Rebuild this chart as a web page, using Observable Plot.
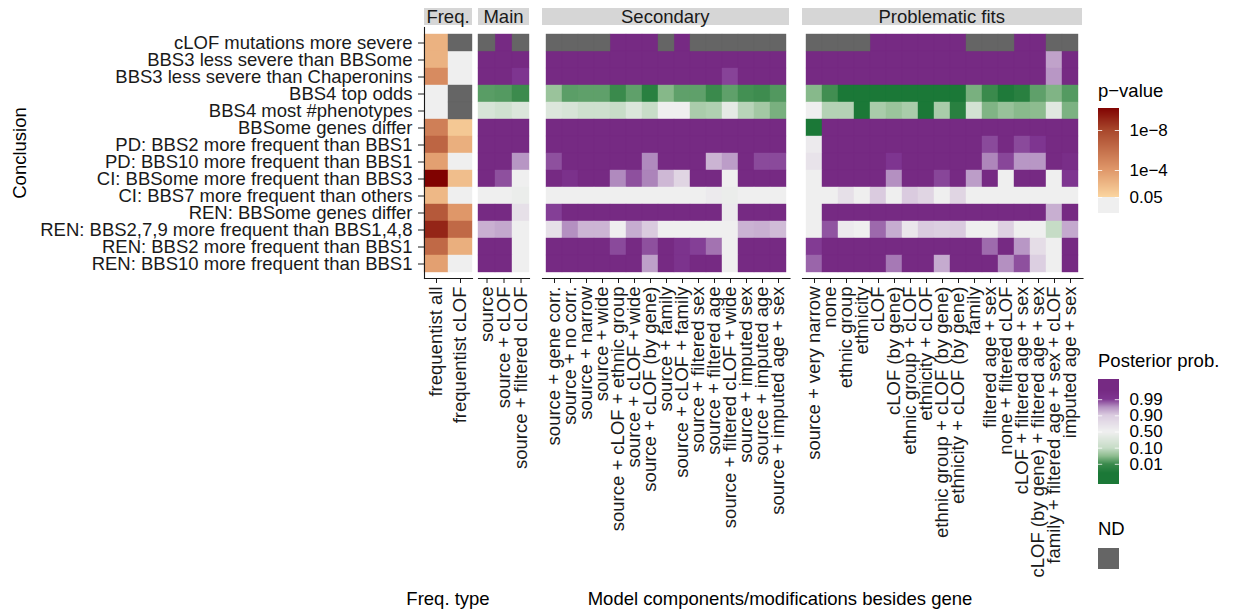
<!DOCTYPE html>
<html><head><meta charset="utf-8">
<script src="https://cdn.jsdelivr.net/npm/d3@7"></script>
<script src="https://cdn.jsdelivr.net/npm/@observablehq/plot@0.6"></script>
<style>
body{margin:0;background:#fff;font-family:"Liberation Sans",Arial,sans-serif;}
#chart{position:relative;width:1234px;height:612px;overflow:hidden;background:#fff;}
#chart > *{position:absolute;}
.strip{background:#D6D6D6;height:17px;top:8px;font-size:18.5px;line-height:18px;text-align:center;color:#1a1a1a;white-space:nowrap;}
.lbl{font-size:18.5px;color:#000;white-space:nowrap;line-height:1;}
</style></head><body><div id="chart"></div>
<script>
// ---------- data ----------
const conclusions = [
  "cLOF mutations more severe",
  "BBS3 less severe than BBSome",
  "BBS3 less severe than Chaperonins",
  "BBS4 top odds",
  "BBS4 most #phenotypes",
  "BBSome genes differ",
  "PD: BBS2 more frequent than BBS1",
  "PD: BBS10 more frequent than BBS1",
  "CI: BBSome more frequent than BBS3",
  "CI: BBS7 more frequent than others",
  "REN: BBSome genes differ",
  "REN: BBS2,7,9 more frequent than BBS1,4,8",
  "REN: BBS2 more frequent than BBS1",
  "REN: BBS10 more frequent than BBS1"
];
const freqTypes = ["frequentist all", "frequentist cLOF"];
// p-values (null = ND)
const freqAllP  = [1.4e-3, 1.4e-3, 2.3e-5, 0.5, 0.5, 6e-6, 3e-7, 2.2e-4, 6e-11, 2.6e-3, 8e-8, 8e-10, 5e-7, 2.2e-4];
const freqClofP = [null, 0.5, 0.5, null, null, 0.013, 1e-3, 0.5, 5e-3, 0.5, 9e-5, 5e-7, 1e-3, 0.5];

const mainCols = ["source", "source + cLOF", "source + filtered cLOF"];
const secondaryCols = [
  "source + gene corr.", "source + no corr.", "source + narrow", "source + wide",
  "source + cLOF + ethnic group", "source + cLOF + wide", "source + cLOF (by gene)",
  "source + family", "source + cLOF + family", "source + filtered sex", "source + filtered age",
  "source + filtered cLOF + wide", "source + imputed sex", "source + imputed age", "source + imputed age + sex"
];
const problematicCols = [
  "source + very narrow", "none", "ethnic group", "ethnicity", "cLOF", "cLOF (by gene)",
  "ethnic group + cLOF", "ethnicity + cLOF", "ethnic group + cLOF (by gene)", "ethnicity + cLOF (by gene)",
  "family", "filtered age + sex", "none + filtered cLOF", "cLOF + filtered age + sex",
  "cLOF (by gene) + filtered age + sex", "family + filtered age + sex + cLOF", "imputed age + sex"
];
// posterior probabilities (null = ND); one row per conclusion
const X = 0.999, G = 0.5, D = 0.002;
const mainPost = [
  [null, X, null],
  [X, X, X],
  [X, X, 0.99],
  [0.027, 0.024, 0.011],
  [0.27, 0.2, 0.3],
  [X, X, X],
  [X, X, X],
  [X, X, 0.942],
  [X, 0.977, G],
  [G, G, 0.46],
  [X, X, 0.67],
  [0.921, 0.928, G],
  [X, X, G],
  [X, X, G]
];
const secondaryPost = [
  [null, null, null, null, X, X, X, null, X, null, null, null, null, null, null],
  [X, X, X, X, X, X, X, X, X, X, X, X, X, X, X],
  [X, X, X, X, X, X, X, X, X, X, X, 0.983, X, X, X],
  [0.065, 0.028, 0.03, 0.03, 0.01, 0.03, 0.0072, 0.051, 0.03, 0.03, 0.01, 0.03, 0.015, 0.012, 0.023],
  [0.31, 0.27, 0.18, 0.18, 0.12, 0.3, 0.12, 0.5, 0.5, 0.078, 0.083, 0.4, 0.089, 0.072, 0.044],
  [X, X, X, X, X, X, X, X, X, X, X, X, X, X, X],
  [X, X, X, X, X, X, X, X, X, X, X, X, X, X, X],
  [0.977, X, X, X, X, X, 0.949, X, X, X, 0.918, 0.936, X, 0.98, 0.98],
  [X, 0.992, X, X, 0.949, 0.977, 0.952, 0.915, 0.79, X, X, G, X, X, X],
  [G, G, G, G, G, G, G, G, G, G, 0.56, 0.46, G, G, G],
  [0.985, X, X, X, X, X, X, X, X, X, X, 0.56, X, X, X],
  [0.67, 0.946, 0.917, 0.917, G, 0.924, 0.9, G, G, G, G, G, 0.919, 0.922, 0.912],
  [X, X, X, X, 0.98, X, 0.977, X, 0.991, 0.985, 0.96, G, X, X, X],
  [X, X, X, X, X, X, 0.934, X, 0.991, X, X, G, X, X, X]
];
const problematicPost = [
  [null, null, null, null, X, X, X, X, X, X, null, null, null, X, X, null, null],
  [X, X, X, X, X, X, X, X, X, X, X, X, X, X, X, 0.932, X],
  [X, X, X, X, X, X, X, X, X, X, X, X, X, X, X, 0.941, X],
  [0.052, 0.0136, D, D, D, D, D, D, D, D, 0.044, 0.01, 0.0056, 0.0072, 0.03, 0.048, 0.024],
  [G, 0.086, 0.086, D, 0.077, 0.066, 0.077, D, 0.077, 0.0072, 0.23, 0.048, 0.064, 0.053, 0.055, 0.35, 0.046],
  [D, X, X, X, X, X, X, X, X, X, X, X, X, X, X, X, X],
  [0.56, X, X, X, X, X, X, X, X, X, X, 0.98, X, 0.98, 0.99, X, X],
  [0.63, X, X, X, X, 0.99, X, X, X, X, X, 0.951, 0.982, 0.941, 0.941, X, 0.993],
  [G, X, X, X, X, 0.946, X, X, 0.982, X, 0.936, X, G, X, X, G, 0.99],
  [G, G, 0.67, G, 0.9, G, 0.9, 0.79, G, 0.79, G, G, G, G, G, G, G],
  [G, X, X, X, X, X, X, X, X, X, X, X, X, X, X, 0.922, X],
  [G, 0.975, 0.56, G, 0.965, 0.924, 0.6, 0.9, 0.86, 0.9, G, G, 0.83, G, G, 0.1, 0.927],
  [0.987, X, X, X, X, X, X, X, X, X, X, 0.964, X, 0.941, 0.7, G, X],
  [0.967, X, X, X, X, 0.957, X, X, 0.925, X, X, X, 0.946, 0.977, 0.86, G, X]
];
const pTicks = [1e-8, 1e-4, 0.05];
const pTickLabels = ["1e\u22128", "1e\u22124", "0.05"];
const postTicks = [0.99, 0.90, 0.50, 0.10, 0.01];
const postTickLabels = ["0.99", "0.90", "0.50", "0.10", "0.01"];

// ---------- styles / scales ----------
const FONT = "'Liberation Sans', Arial, sans-serif";
const ND = "#656565";
const INK = "#1a1a1a";
const pColor = {type: "linear", domain: [-1, 1.29, 1.301, 4, 8, 10.3],
  range: ["#EFEFEF", "#EFEFEF", "#FAD5A0", "#E0986A", "#A8472C", "#7F0000"]};
const postColor = {type: "linear",
  domain: [0, 0.005, 0.01, 0.055, 0.1, 0.5, 0.9, 0.945, 0.99, 0.995, 1],
  range: ["#1B7837", "#1B7837", "#3A8A4C", "#8DBC8F", "#C6DCC6", "#EFEFEF", "#DACBDF", "#B592C2", "#7E3590", "#762A83", "#762A83"]};
const H = 430, TOP = 27, BOTTOM = 278;
const baseStyle = {fontFamily: FONT, fontSize: "18.5px", color: INK, background: "transparent", overflow: "visible"};
const chart = document.getElementById("chart");

function tidy(cols, matrix) {
  return matrix.flatMap((row, i) => row.map((v, j) => ({conclusion: conclusions[i], col: cols[j], value: v})));
}

// ---------- Freq panel ----------
const freqData = tidy(freqTypes, conclusions.map((c, i) => [freqAllP[i], freqClofP[i]]));
const freqLeft = 424, freqW = 48;
const freqPlot = Plot.plot({
  width: freqLeft + freqW + 2, height: H,
  marginLeft: freqLeft, marginRight: 2, marginTop: TOP, marginBottom: H - BOTTOM,
  style: baseStyle,
  x: {type: "band", domain: freqTypes, padding: 0, label: null},
  y: {type: "band", domain: conclusions, padding: 0, label: null},
  color: pColor,
  marks: [
    Plot.cell(freqData.filter(d => d.value != null), {x: "col", y: "conclusion",
      fill: d => -Math.log10(d.value), stroke: d => -Math.log10(d.value), strokeWidth: 0.4, inset: 0}),
    Plot.cell(freqData.filter(d => d.value == null), {x: "col", y: "conclusion", fill: ND, stroke: ND, strokeWidth: 0.4, inset: 0}),
    Plot.axisY({tickSize: 6, tickPadding: 6, label: null}),
    Plot.axisX({tickSize: 5, tickPadding: 3, tickRotate: -90, label: null}),
    Plot.frame({anchor: "left", strokeWidth: 1.1}),
    Plot.frame({anchor: "bottom", strokeWidth: 1.1})
  ]
});
freqPlot.style.left = "0px"; freqPlot.style.top = "0px";
chart.appendChild(freqPlot);

// ---------- model panels ----------
function modelPanel(cols, matrix, left, colW) {
  const data = tidy(cols, matrix);
  const mL = 12, mR = 12;
  const svg = Plot.plot({
    width: mL + cols.length * colW + mR, height: H,
    marginLeft: mL, marginRight: mR, marginTop: TOP, marginBottom: H - BOTTOM,
    style: baseStyle,
    x: {type: "band", domain: cols, padding: 0, label: null},
    y: {type: "band", domain: conclusions, padding: 0, axis: null, label: null},
    color: postColor,
    marks: [
      Plot.cell(data.filter(d => d.value != null), {x: "col", y: "conclusion", fill: "value", stroke: "value", strokeWidth: 0.4, inset: 0}),
      Plot.cell(data.filter(d => d.value == null), {x: "col", y: "conclusion", fill: ND, stroke: ND, strokeWidth: 0.4, inset: 0}),
      Plot.axisX({tickSize: 5, tickPadding: 3, tickRotate: -90, label: null}),
      Plot.frame({anchor: "bottom", strokeWidth: 1.1})
    ]
  });
  svg.style.left = (left - mL) + "px"; svg.style.top = "0px";
  chart.appendChild(svg);
}
const panels = [
  {name: "Main", cols: mainCols, post: mainPost, left: 478, colW: 17},
  {name: "Secondary", cols: secondaryCols, post: secondaryPost, left: 541.5, colW: 16.5},
  {name: "Problematic fits", cols: problematicCols, post: problematicPost, left: 801.5, colW: 16.5}
];
panels.forEach(p => modelPanel(p.cols, p.post, p.left, p.colW));

// ---------- strips ----------
function strip(text, left, width) {
  const d = document.createElement("div");
  d.className = "strip"; d.textContent = text;
  d.style.left = left + "px"; d.style.width = width + "px";
  chart.appendChild(d);
}
strip("Freq.", freqLeft, freqW);
panels.forEach(p => strip(p.name, p.left, p.cols.length * p.colW));

// ---------- axis titles ----------
function label(text, x, y, rotate) {
  const d = document.createElement("div");
  d.className = "lbl"; d.textContent = text;
  d.style.left = x + "px"; d.style.top = y + "px";
  d.style.transform = "translate(-50%,-50%)" + (rotate ? " rotate(-90deg)" : "");
  chart.appendChild(d);
}
label("Conclusion", 20, 153, true);
label("Freq. type", 448, 599);
label("Model components/modifications besides gene", 780, 599);

// ---------- legends ----------
function legendTitle(text, x, y) {
  const d = document.createElement("div");
  d.className = "lbl"; d.textContent = text;
  d.style.left = x + "px"; d.style.top = y + "px"; d.style.transform = "translate(0,-50%)";
  chart.appendChild(d);
}
legendTitle("p\u2212value", 1098, 91);
legendTitle("Posterior prob.", 1098, 361);
legendTitle("ND", 1098, 529);

const legendStyle = {...baseStyle, fontSize: "17px"};
// p-value colour bar (position = -log10 p), ~1px slices that overlap
const pStep = 0.1, pLo = -0.3, pHi = 10.2;
const pSteps = d3.range(pLo, pHi, pStep);
const pLegend = Plot.plot({
  width: 140, height: 125, marginLeft: 0, marginRight: 119, marginTop: 8, marginBottom: 12,
  style: legendStyle,
  x: {domain: [0, 1], axis: null},
  y: {domain: [pLo, pHi], axis: null},
  color: pColor,
  marks: [
    Plot.rect(pSteps, {x1: 0, x2: 1, y1: d => d, y2: d => Math.min(pHi, d + 2 * pStep), fill: d => d + pStep / 2, shapeRendering: "crispEdges"}),
    Plot.ruleY(pTicks.map(p => -Math.log10(p)), {x1: 0, x2: 0.2, stroke: "white", strokeOpacity: 0.8}),
    Plot.ruleY(pTicks.map(p => -Math.log10(p)), {x1: 0.8, x2: 1, stroke: "white", strokeOpacity: 0.8}),
    Plot.axisY(pTicks.map(p => -Math.log10(p)), {anchor: "right", tickSize: 0, tickPadding: 10,
      tickFormat: (d, i) => pTickLabels[i], fill: "#000"})
  ]
});
pLegend.style.left = "1098px"; pLegend.style.top = "100px";
chart.appendChild(pLegend);

// posterior colour bar (position = evenly spaced breaks)
const breakP = [0.001, 0.01, 0.1, 0.5, 0.9, 0.99, 0.999];
const tToP = d3.scaleLinear().domain([-3, -2, -1, 0, 1, 2, 3]).range(breakP).clamp(true);
const tStep = 0.0625, tLo = -3.25, tHi = 3.25;
const tSteps = d3.range(tLo, tHi, tStep);
const postLegend = Plot.plot({
  width: 140, height: 125, marginLeft: 0, marginRight: 119, marginTop: 9, marginBottom: 11,
  style: legendStyle,
  x: {domain: [0, 1], axis: null},
  y: {domain: [tLo, tHi], axis: null},
  color: postColor,
  marks: [
    Plot.rect(tSteps, {x1: 0, x2: 1, y1: d => d, y2: d => Math.min(tHi, d + 2 * tStep), fill: d => tToP(d + tStep / 2), shapeRendering: "crispEdges"}),
    Plot.ruleY(postTicks.map(p => tToP.invert(p)), {x1: 0, x2: 0.2, stroke: "white", strokeOpacity: 0.8}),
    Plot.ruleY(postTicks.map(p => tToP.invert(p)), {x1: 0.8, x2: 1, stroke: "white", strokeOpacity: 0.8}),
    Plot.axisY(postTicks.map(p => tToP.invert(p)), {anchor: "right", tickSize: 0, tickPadding: 10,
      tickFormat: (d, i) => postTickLabels[i], fill: "#000"})
  ]
});
postLegend.style.left = "1098px"; postLegend.style.top = "370px";
chart.appendChild(postLegend);

// ND key
const ndKey = document.createElement("div");
ndKey.style.left = "1098px"; ndKey.style.top = "548px";
ndKey.style.width = "21px"; ndKey.style.height = "21px"; ndKey.style.background = ND;
chart.appendChild(ndKey);
</script></body></html>
